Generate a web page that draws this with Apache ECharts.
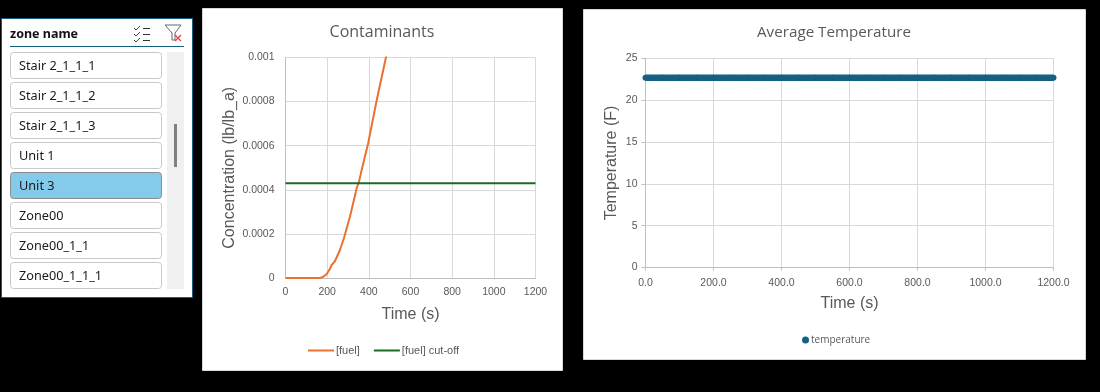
<!DOCTYPE html>
<html>
<head>
<meta charset="utf-8">
<title>Zone results</title>
<script src="https://cdn.jsdelivr.net/npm/echarts@6/dist/echarts.min.js"></script>
<style>
  html, body { margin: 0; padding: 0; background: #000; }
  #main { width: 1100px; height: 392px; }
</style>
</head>
<body>
<div id="main"></div>
<script>
// slicer
var zoneNames = ['Stair 2_1_1_1', 'Stair 2_1_1_2', 'Stair 2_1_1_3', 'Unit 1', 'Unit 3', 'Zone00', 'Zone00_1_1', 'Zone00_1_1_1'];
var selectedZone = 'Unit 3';

// contaminants chart
var fuelTime = [0, 50, 100, 150, 165, 180, 197, 210, 221, 237, 261, 280, 309, 342, 353, 365, 397, 438, 482, 495];
var fuelValue = [0, 0, 0, 0, 0, 0.000005, 0.000017, 0.000036, 0.000058, 0.000076, 0.000126, 0.000179, 0.000277, 0.000408, 0.000437, 0.000488, 0.000612, 0.000807, 0.001, 0.00106];
var cutoffTime = [0, 1200];
var cutoffValue = [0.00043, 0.00043];

// temperature chart
var tempTime = [0, 50, 100, 150, 200, 250, 300, 350, 400, 450, 500, 550, 600, 650, 700, 750, 800, 850, 900, 950, 1000, 1050, 1100, 1150, 1200];
var tempValue = [22.7, 22.7, 22.7, 22.7, 22.7, 22.7, 22.7, 22.7, 22.7, 22.7, 22.7, 22.7, 22.7, 22.7, 22.7, 22.7, 22.7, 22.7, 22.7, 22.7, 22.7, 22.7, 22.7, 22.7, 22.7];

var grey = '#595959';
var gridGrey = '#d9d9d9';
var axisGrey = '#bfbfbf';
var teal = '#156082';
var sansFont = 'Liberation Sans';
var titleFont = 'Open Sans';

function zip(xs, ys) {
  return xs.map(function (x, i) { return [x, ys[i]]; });
}

function panel(x, y, w, h, stroke) {
  return {
    type: 'rect', z: -10, silent: true,
    shape: { x: x, y: y, width: w, height: h },
    style: { fill: '#fff', stroke: stroke, lineWidth: 1 }
  };
}

function line(x1, y1, x2, y2, color, width) {
  return {
    type: 'line', silent: true,
    shape: { x1: x1, y1: y1, x2: x2, y2: y2 },
    style: { stroke: color, lineWidth: width || 1 }
  };
}

function slicerGraphics() {
  var items = [
    panel(1.5, 18.5, 191, 279, teal),
    panel(202.5, 8.5, 360, 362, '#d9d9d9'),
    panel(583.5, 9.5, 502, 350, '#d9d9d9'),
    {
      type: 'text', silent: true, x: 10, y: 34,
      style: { text: 'zone name', fill: '#111', font: 'bold 12.5px "Noto Sans"', textVerticalAlign: 'middle' }
    },
    line(10, 46.5, 184, 46.5, teal, 1),
    // scrollbar
    { type: 'rect', silent: true, shape: { x: 167, y: 52, width: 17, height: 237 }, style: { fill: '#f0f0f0' } },
    { type: 'rect', silent: true, shape: { x: 174, y: 124, width: 3, height: 43 }, style: { fill: '#808080' } }
  ];

  // select-multiple icon
  [0, 6, 12].forEach(function (dy) {
    items.push({
      type: 'polyline', silent: true,
      shape: { points: [[134, 28 + dy], [136, 30 + dy], [140, 26 + dy]] },
      style: { stroke: '#444', lineWidth: 1, fill: null }
    });
    items.push(line(143, 28.5 + dy, 150, 28.5 + dy, '#333', 1));
  });

  // clear-filter icon
  items.push({
    type: 'polyline', silent: true,
    shape: { points: [[165, 25], [181, 25], [175, 33], [175, 40], [172, 40], [172, 33], [165, 25]] },
    style: { stroke: '#666', lineWidth: 1, fill: null }
  });
  items.push(line(175, 35, 181, 41, '#e8404a', 1.2));
  items.push(line(181, 35, 175, 41, '#e8404a', 1.2));

  zoneNames.forEach(function (name, i) {
    var top = 52.5 + i * 30;
    var active = name === selectedZone;
    items.push({
      type: 'rect', silent: true,
      shape: { x: 10.5, y: top, width: 151, height: 26, r: 3 },
      style: { fill: active ? '#83caeb' : '#fff', stroke: active ? '#8c8c8c' : '#c8c8c8', lineWidth: 1 }
    });
    items.push({
      type: 'text', silent: true, x: 19, y: top + 14,
      style: { text: name, fill: '#1a1a1a', font: '12.7px "Noto Sans"', textVerticalAlign: 'middle' }
    });
  });
  return items;
}

var option = {
  backgroundColor: '#000',
  animation: false,
  title: [
    {
      text: 'Contaminants', left: 377, top: 27, textAlign: 'center', textVerticalAlign: 'middle',
      textStyle: { color: grey, fontSize: 16, fontWeight: 'normal', fontFamily: titleFont }
    },
    {
      text: 'Average Temperature', left: 829, top: 28, textAlign: 'center', textVerticalAlign: 'middle',
      textStyle: { color: grey, fontSize: 15.2, fontWeight: 'normal', fontFamily: titleFont }
    }
  ],
  legend: [
    {
      data: [{ name: '[fuel]', icon: 'rect' }, { name: '[fuel] cut-off', icon: 'rect' }],
      left: 303, top: 340, itemWidth: 26, itemHeight: 2, itemGap: 14,
      textStyle: { color: grey, fontSize: 11, fontFamily: sansFont, padding: [0, 0, 0, -3] }
    },
    {
      data: [{ name: 'temperature', icon: 'circle' }], left: 797, top: 330, itemWidth: 7, itemHeight: 7,
      textStyle: { color: grey, fontSize: 10, fontFamily: titleFont, padding: [0, 0, 0, -3] }
    }
  ],
  grid: [
    { left: 285.5, top: 57.5, width: 250, height: 220.5 },
    { left: 645.5, top: 58.5, width: 408, height: 209 }
  ],
  xAxis: [
    {
      type: 'value', gridIndex: 0, min: 0, max: 1200, interval: 200,
      name: 'Time (s)', nameLocation: 'middle', nameGap: 29,
      nameTextStyle: { color: grey, fontSize: 16, fontFamily: sansFont },
      axisLine: { show: true, lineStyle: { color: axisGrey } },
      axisTick: { show: false },
      axisLabel: {
        color: grey, fontSize: 10.5, fontFamily: sansFont, margin: 9, hideOverlap: false,
        formatter: function (v) { return String(v); }
      },
      splitLine: { show: true, lineStyle: { color: gridGrey } }
    },
    {
      type: 'value', gridIndex: 1, min: 0, max: 1200, interval: 200,
      name: 'Time (s)', nameLocation: 'middle', nameGap: 28,
      nameTextStyle: { color: grey, fontSize: 16, fontFamily: sansFont },
      axisLine: { show: true, lineStyle: { color: axisGrey } },
      axisTick: { show: true, length: 3, lineStyle: { color: axisGrey } },
      axisLabel: {
        color: grey, fontSize: 10.5, fontFamily: sansFont, margin: 10, hideOverlap: false,
        formatter: function (v) { return v.toFixed(1); }
      },
      splitLine: { show: true, lineStyle: { color: gridGrey } }
    }
  ],
  yAxis: [
    {
      type: 'value', gridIndex: 0, min: 0, max: 0.001, interval: 0.0002,
      name: 'Concentration (lb/lb_a)', nameLocation: 'middle', nameGap: 48, nameRotate: 90,
      nameTextStyle: { color: grey, fontSize: 16, fontFamily: sansFont },
      axisLine: { show: true, lineStyle: { color: axisGrey } },
      axisTick: { show: false },
      axisLabel: {
        color: grey, fontSize: 10.5, fontFamily: sansFont, margin: 11, hideOverlap: false,
        formatter: function (v) { return String(+v.toFixed(4)); }
      },
      splitLine: { show: true, lineStyle: { color: gridGrey } }
    },
    {
      type: 'value', gridIndex: 1, min: 0, max: 25, interval: 5,
      name: 'Temperature (F)', nameLocation: 'middle', nameGap: 26, nameRotate: 90,
      nameTextStyle: { color: grey, fontSize: 16, fontFamily: sansFont },
      axisLine: { show: true, lineStyle: { color: axisGrey } },
      axisTick: { show: true, length: 4, lineStyle: { color: axisGrey } },
      axisLabel: { color: grey, fontSize: 10.5, fontFamily: sansFont, margin: 8, hideOverlap: false },
      splitLine: { show: true, lineStyle: { color: gridGrey } }
    }
  ],
  series: [
    {
      name: '[fuel]', type: 'line', xAxisIndex: 0, yAxisIndex: 0, symbol: 'none',
      data: zip(fuelTime, fuelValue), lineStyle: { color: '#e97132', width: 2 }, itemStyle: { color: '#e97132' }
    },
    {
      name: '[fuel] cut-off', type: 'line', xAxisIndex: 0, yAxisIndex: 0, symbol: 'none',
      data: zip(cutoffTime, cutoffValue), lineStyle: { color: '#196b24', width: 2 }, itemStyle: { color: '#196b24' }
    },
    {
      name: 'temperature', type: 'line', xAxisIndex: 1, yAxisIndex: 1, symbol: 'circle', symbolSize: 6, showSymbol: true,
      showAllSymbol: true, clip: false,
      data: zip(tempTime, tempValue), lineStyle: { color: teal, width: 6.5 }, itemStyle: { color: teal }
    }
  ],
  graphic: slicerGraphics()
};

var myChart = echarts.init(document.getElementById('main'), null, { renderer: 'canvas' });
myChart.setOption(option);
</script>
</body>
</html>
